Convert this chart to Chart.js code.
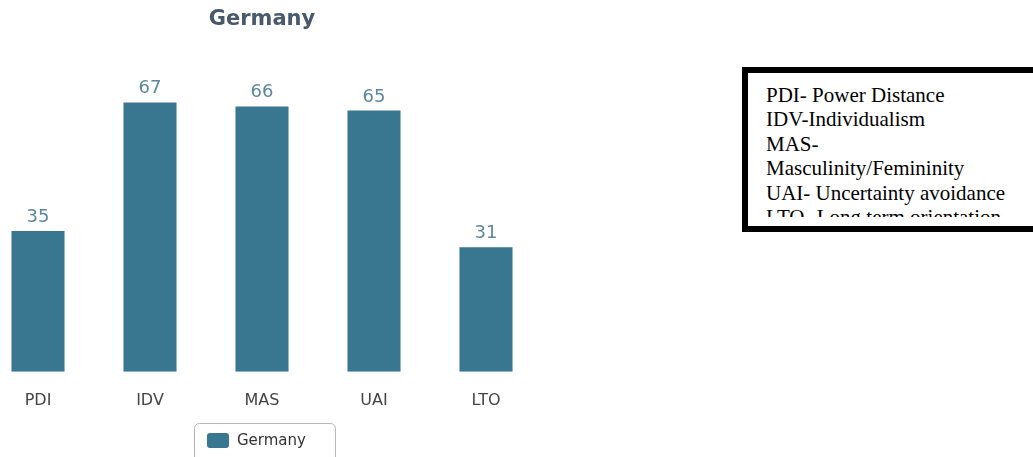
<!DOCTYPE html>
<html>
<head>
<meta charset="utf-8">
<script src="https://cdn.jsdelivr.net/npm/chart.js@4.4.1/dist/chart.umd.min.js"></script>
<style>
	html, body { margin: 0; padding: 0; background: #fff; overflow: hidden; }
	body { width: 1033px; height: 457px; position: relative; }
	#chart-wrap { position: absolute; left: -18px; top: 0; width: 560px; height: 457px; }
	#notes {
		position: absolute; left: 742px; top: 67px;
		width: 400px; height: 153px;
		border: 6px solid #000;
		font-family: "Liberation Serif", "Times New Roman", serif;
		font-size: 21px; color: #000;
	}
	#notes .inner {
		margin-top: 9.7px; padding-left: 18px;
		height: 134.3px; overflow: hidden;
		line-height: 24.5px; white-space: nowrap;
	}
</style>
</head>
<body>
<div id="chart-wrap"><canvas id="bar-chart-germany"></canvas></div>
<div id="notes"><div class="inner">
	<div>PDI- Power Distance</div>
	<div>IDV-Individualism</div>
	<div>MAS-</div>
	<div>Masculinity/Femininity</div>
	<div>UAI- Uncertainty avoidance</div>
	<div>LTO- Long term orientation</div>
</div></div>
<script>
"use strict";

const dimensions = ['PDI', 'IDV', 'MAS', 'UAI', 'LTO'];
const germanyScores = [35, 67, 66, 65, 31];
const countryName = 'Germany';

const barColor = '#39768f';
const fontFamily = '"DejaVu Sans", Verdana, sans-serif';

// value labels above each bar
const valueLabels = {
	id: 'valueLabels',
	afterDatasetsDraw(chart) {
		const ctx = chart.ctx;
		ctx.save();
		ctx.font = '18px ' + fontFamily;
		ctx.fillStyle = '#5b87a0';
		ctx.textAlign = 'center';
		ctx.textBaseline = 'alphabetic';
		chart.getDatasetMeta(0).data.forEach((bar, i) => {
			ctx.fillText(chart.data.datasets[0].data[i], bar.x, bar.y - 9);
		});
		ctx.restore();
	}
};

// boxed legend under the axis
const boxedLegend = {
	id: 'boxedLegend',
	afterDraw(chart) {
		const ctx = chart.ctx;
		const ds = chart.data.datasets[0];
		ctx.save();
		ctx.font = '15px ' + fontFamily;
		const textW = ctx.measureText(ds.label).width;
		const boxW = 12 + 22 + 8 + textW + 30;
		const cx = (chart.chartArea.left + chart.chartArea.right) / 2 + 2.5;
		const x0 = Math.round(cx - boxW / 2) + 0.5;
		const y0 = 423.5;
		ctx.strokeStyle = '#b4b4b4';
		ctx.lineWidth = 1;
		ctx.beginPath();
		ctx.roundRect(x0, y0, boxW, 40, 5);
		ctx.stroke();
		ctx.fillStyle = ds.backgroundColor;
		ctx.beginPath();
		ctx.roundRect(x0 + 12.5, 433, 22, 15, 3);
		ctx.fill();
		ctx.fillStyle = '#333';
		ctx.textBaseline = 'middle';
		ctx.fillText(ds.label, x0 + 42.5, 441);
		ctx.restore();
	}
};

function displayBarChartGermany(labels, scores) {
	const ctx = document.querySelector('#bar-chart-germany').getContext('2d');
	new Chart(ctx, {
		type: 'bar',
		data: {
			labels: labels,
			datasets: [{
				label: countryName,
				data: scores,
				backgroundColor: barColor,
				borderWidth: 0,
				categoryPercentage: 1,
				barPercentage: 0.474
			}]
		},
		options: {
			responsive: true,
			maintainAspectRatio: false,
			animation: false,
			layout: { padding: { left: 0, right: 0, top: 0, bottom: 28 } },
			plugins: {
				legend: { display: false },
				tooltip: { enabled: false },
				title: {
					display: true,
					text: countryName,
					color: '#48596b',
					font: { family: fontFamily, size: 21, weight: 'bold' },
					padding: { top: 7, bottom: 18 }
				}
			},
			scales: {
				x: {
					grid: { display: false, drawTicks: false },
					border: { display: false },
					ticks: {
						color: '#444',
						font: { family: fontFamily, size: 16 },
						padding: 19
					}
				},
				y: {
					display: false,
					min: 0,
					max: 80
				}
			}
		},
		plugins: [valueLabels, boxedLegend]
	});
}

displayBarChartGermany(dimensions, germanyScores);
</script>
</body>
</html>
